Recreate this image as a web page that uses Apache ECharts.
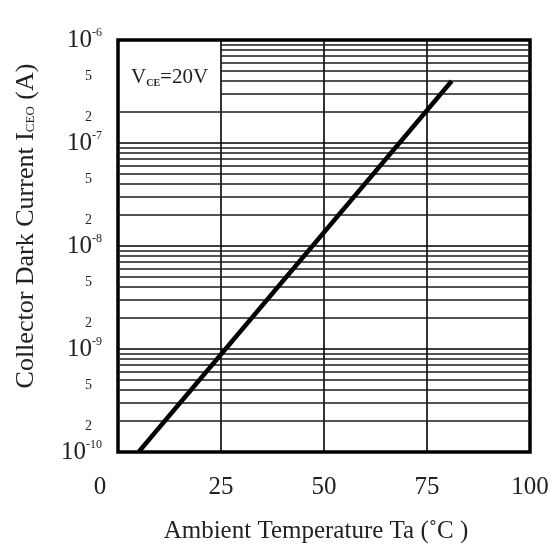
<!DOCTYPE html>
<html><head><meta charset="utf-8">
<script src="https://cdn.jsdelivr.net/npm/echarts@6/dist/echarts.min.js"></script>
<style>html,body{margin:0;padding:0;background:#fff}#c{width:556px;height:549px}</style>
</head><body><div id="c"></div>
<script>
// ---- data ----
const temperature = [5, 81];          // Ta (°C)
const darkCurrent = [1e-10, 4e-7];    // ICEO (A)
const xTicks = [0, 25, 50, 75, 100];
const decades = [1e-10, 1e-9, 1e-8, 1e-7];
const mantissas = [2, 3, 4, 5, 6, 7, 8, 9];
const labeledMantissas = [2, 5];
const labelBoxDecade = 1e-7;          // decade whose upper minor lines start at boxEdgeX
const boxEdgeX = 25;
const noteText = ['V', 'CE', '=20V'];

const FONT = "'Liberation Serif','Times New Roman',serif";

// minor grid lines (through axis scales)
const minorLines = [];
decades.forEach(d => {
  mantissas.forEach(m => {
    const v = m * d;
    const x0 = (d === labelBoxDecade && m >= 3) ? boxEdgeX : 0;
    minorLines.push([{coord: [x0, v]}, {coord: [100, v]}]);
  });
});
const minorLabels = [];
decades.forEach(d => {
  labeledMantissas.forEach(m => {
    minorLabels.push({coord: [0, m * d], value: String(m)});
  });
});

const chart = echarts.init(document.getElementById('c'), null, {renderer: 'canvas'});
chart.setOption({
  animation: false,
  backgroundColor: '#fff',
  title: {
    left: 126, top: 62,
    text: '{v|' + noteText[0] + '}{s|' + noteText[1] + '}{v|' + noteText[2] + '}',
    textStyle: {
      rich: {
        v: {fontFamily: FONT, fontSize: 21, color: '#222', fontWeight: 'normal'},
        s: {fontFamily: FONT, fontSize: 10, color: '#222', verticalAlign: 'bottom', padding: [8, 0, 0, 0]}
      }
    }
  },
  grid: {left: 118, right: 26, top: 40, bottom: 96, show: true, borderColor: '#000', borderWidth: 3.5, backgroundColor: 'transparent'},
  xAxis: {
    type: 'value', min: 0, max: 100, interval: 25,
    axisLine: {show: false}, axisTick: {show: false},
    splitLine: {show: true, lineStyle: {color: '#000', width: 1.6}},
    axisLabel: {
      margin: 23, color: '#222', fontFamily: FONT, fontSize: 25,
      formatter: v => v === 0 ? '{z|0}' : String(v),
      rich: {z: {fontFamily: FONT, fontSize: 25, color: '#222', padding: [0, 36, 0, 0]}}
    },
    name: 'Ambient Temperature Ta (˚C )', nameLocation: 'middle', nameGap: 67,
    nameTextStyle: {fontFamily: FONT, fontSize: 25, color: '#222', padding: [0, 16, 0, 0]}
  },
  yAxis: {
    type: 'log', logBase: 10, min: 1e-10, max: 1e-6, splitNumber: 4,
    axisLine: {show: false}, axisTick: {show: false},
    splitLine: {show: true, lineStyle: {color: '#000', width: 1.6}},
    minorSplitLine: {show: false},
    axisLabel: {
      margin: 16, color: '#222',
      formatter: v => '{b|10}{e|' + Math.round(Math.log10(v)) + '}',
      rich: {
        b: {fontFamily: FONT, fontSize: 25, color: '#222'},
        e: {fontFamily: FONT, fontSize: 12, color: '#222', verticalAlign: 'top', padding: [0, 0, 14, 0]}
      }
    },
    name: 'Collector Dark Current I{s|CEO} (A)', nameLocation: 'middle', nameGap: 79,
    nameTextStyle: {
      fontFamily: FONT, fontSize: 26, color: '#222', padding: [0, 0, 0, 40],
      rich: {s: {fontFamily: FONT, fontSize: 13, color: '#222', padding: [9, 0, 0, 0]}}
    }
  },
  series: [{
    type: 'line',
    data: temperature.map((t, i) => [t, darkCurrent[i]]),
    showSymbol: false, symbol: 'none',
    lineStyle: {color: '#000', width: 4.5},
    z: 5,
    markLine: {
      silent: true, symbol: ['none', 'none'],
      lineStyle: {color: '#1a1a1a', width: 1.5, type: 'solid'},
      label: {show: false},
      data: minorLines,
      z: 1
    },
    markPoint: {
      symbol: 'circle', symbolSize: 0,
      itemStyle: {color: 'transparent'},
      label: {show: true, position: 'left', distance: 26, offset: [0, 5], color: '#222', fontFamily: FONT, fontSize: 14, formatter: p => p.value},
      data: minorLabels
    }
  }]
});
</script>
</body></html>
